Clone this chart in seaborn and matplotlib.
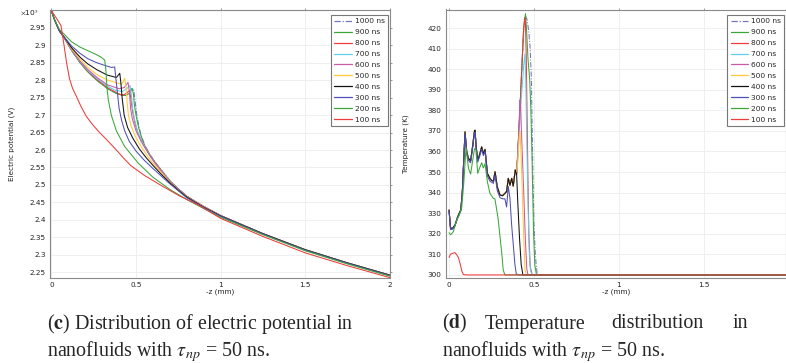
import matplotlib
matplotlib.use("Agg")
import matplotlib.pyplot as plt
import seaborn as sns
import pandas as pd
from matplotlib.ticker import FuncFormatter

# ---------------- data ----------------
times = ["1000 ns", "900 ns", "800 ns", "700 ns", "600 ns",
         "500 ns", "400 ns", "300 ns", "200 ns", "100 ns"]
line_colors = ["#7474c6", "#3aa63a", "#ee3b3b", "#5fcdee", "#c95aa8",
               "#ffc936", "#111111", "#4f4fb8", "#3aa63a", "#ee3b3b"]

# Electric potential (units of 1e5 V) vs -z (mm)
pot_x_1000 = [0, 0.02, 0.047, 0.08, 0.12, 0.17, 0.215, 0.27, 0.334, 0.38, 0.42, 0.44, 0.46, 0.472,
              0.485, 0.49, 0.497, 0.505, 0.518, 0.532, 0.552, 0.58, 0.611, 0.65, 0.7, 0.75,
              0.8, 0.9, 1.0, 1.25, 1.5, 1.75, 2.0]
pot_v_1000 = [3.0, 2.972, 2.942, 2.918, 2.885, 2.85, 2.825, 2.8, 2.776, 2.764, 2.758, 2.757, 2.763, 2.772,
              2.776, 2.76, 2.73, 2.70, 2.665, 2.64, 2.613, 2.589, 2.566, 2.542, 2.512, 2.489,
              2.468, 2.438, 2.412, 2.36, 2.314, 2.276, 2.241]
pot_x_900 = [0, 0.02, 0.047, 0.08, 0.12, 0.17, 0.215, 0.27, 0.334, 0.38, 0.42, 0.44, 0.46, 0.47,
             0.477, 0.485, 0.49, 0.5, 0.515, 0.53, 0.552, 0.58, 0.611, 0.65, 0.7, 0.75,
             0.8, 0.9, 1.0, 1.25, 1.5, 1.75, 2.0]
pot_v_900 = [3.0, 2.972, 2.942, 2.918, 2.885, 2.85, 2.824, 2.799, 2.775, 2.763, 2.757, 2.756, 2.763, 2.773,
             2.777, 2.76, 2.73, 2.70, 2.665, 2.64, 2.612, 2.588, 2.566, 2.542, 2.512, 2.488,
             2.467, 2.438, 2.412, 2.36, 2.314, 2.276, 2.241]
pot_x_800 = [0, 0.02, 0.047, 0.08, 0.12, 0.17, 0.215, 0.27, 0.334, 0.38, 0.40, 0.423, 0.44, 0.455,
             0.463, 0.47, 0.48, 0.492, 0.51, 0.53, 0.552, 0.58, 0.611, 0.65, 0.7, 0.75,
             0.8, 0.9, 1.0, 1.25, 1.5, 1.75, 2.0]
pot_v_800 = [3.0, 2.972, 2.942, 2.918, 2.886, 2.852, 2.826, 2.802, 2.778, 2.766, 2.76, 2.757, 2.762, 2.768,
             2.771, 2.745, 2.71, 2.68, 2.65, 2.63, 2.61, 2.587, 2.565, 2.541, 2.511, 2.488,
             2.467, 2.438, 2.412, 2.36, 2.314, 2.276, 2.241]
pot_x_700 = [0, 0.02, 0.047, 0.08, 0.12, 0.17, 0.215, 0.27, 0.334, 0.38, 0.42, 0.45, 0.465,
             0.472, 0.48, 0.49, 0.51, 0.53, 0.552, 0.58, 0.611, 0.65, 0.7, 0.75,
             0.8, 0.9, 1.0, 1.25, 1.5, 1.75, 2.0]
pot_v_700 = [3.0, 2.972, 2.942, 2.918, 2.887, 2.853, 2.828, 2.805, 2.782, 2.771, 2.768, 2.778, 2.785,
             2.76, 2.72, 2.69, 2.652, 2.63, 2.609, 2.586, 2.564, 2.54, 2.511, 2.488,
             2.467, 2.438, 2.412, 2.36, 2.314, 2.276, 2.241]
pot_x_600 = [0, 0.02, 0.047, 0.08, 0.12, 0.17, 0.215, 0.27, 0.33, 0.40, 0.43, 0.453,
             0.46, 0.468, 0.478, 0.5, 0.53, 0.552, 0.58, 0.611, 0.65, 0.7, 0.75,
             0.8, 0.9, 1.0, 1.25, 1.5, 1.75, 2.0]
pot_v_600 = [3.0, 2.972, 2.942, 2.919, 2.888, 2.855, 2.831, 2.808, 2.787, 2.776, 2.779, 2.794,
             2.77, 2.72, 2.69, 2.655, 2.625, 2.607, 2.585, 2.563, 2.539, 2.51, 2.488,
             2.467, 2.438, 2.412, 2.36, 2.314, 2.276, 2.241]
pot_x_500 = [0, 0.02, 0.047, 0.08, 0.12, 0.17, 0.215, 0.27, 0.33, 0.39, 0.417, 0.433,
             0.44, 0.447, 0.455, 0.47, 0.5, 0.53, 0.56, 0.6, 0.65, 0.7, 0.75,
             0.8, 0.9, 1.0, 1.25, 1.5, 1.75, 2.0]
pot_v_500 = [3.0, 2.972, 2.942, 2.92, 2.89, 2.86, 2.837, 2.816, 2.801, 2.792, 2.789, 2.806,
             2.785, 2.74, 2.70, 2.67, 2.635, 2.61, 2.588, 2.562, 2.535, 2.508, 2.486,
             2.466, 2.437, 2.411, 2.36, 2.314, 2.276, 2.241]
pot_x_400 = [0, 0.02, 0.047, 0.08, 0.12, 0.17, 0.215, 0.27, 0.33, 0.384, 0.404,
             0.41, 0.418, 0.43, 0.45, 0.48, 0.52, 0.56, 0.6, 0.65, 0.7, 0.75,
             0.8, 0.9, 1.0, 1.25, 1.5, 1.75, 2.0]
pot_v_400 = [3.0, 2.972, 2.942, 2.921, 2.893, 2.866, 2.847, 2.83, 2.815, 2.808, 2.82,
             2.795, 2.75, 2.70, 2.665, 2.635, 2.603, 2.578, 2.556, 2.53, 2.506, 2.485,
             2.465, 2.436, 2.411, 2.36, 2.314, 2.276, 2.241]
pot_x_300 = [0, 0.02, 0.047, 0.08, 0.12, 0.17, 0.215, 0.26, 0.3, 0.354, 0.374,
             0.38, 0.39, 0.40, 0.415, 0.433, 0.46, 0.5, 0.55, 0.6, 0.65, 0.7, 0.75,
             0.8, 0.9, 1.0, 1.25, 1.5, 1.75, 2.0]
pot_v_300 = [3.0, 2.972, 2.942, 2.922, 2.898, 2.877, 2.862, 2.852, 2.845, 2.837, 2.838,
             2.81, 2.765, 2.72, 2.685, 2.655, 2.625, 2.597, 2.57, 2.547, 2.525, 2.503, 2.483,
             2.463, 2.435, 2.41, 2.359, 2.313, 2.275, 2.24]
pot_x_200 = [0, 0.02, 0.047, 0.08, 0.12, 0.17, 0.215, 0.26, 0.295, 0.315, 0.322, 0.328,
             0.336, 0.354, 0.384, 0.433, 0.512, 0.6, 0.7, 0.8, 0.9, 1.0, 1.25, 1.5, 1.75, 2.0]
pot_v_200 = [3.0, 2.973, 2.946, 2.93, 2.91, 2.895, 2.885, 2.875, 2.866, 2.858, 2.83, 2.78,
             2.745, 2.70, 2.655, 2.61, 2.563, 2.522, 2.487, 2.458, 2.432, 2.407, 2.357, 2.311, 2.273, 2.238]
pot_x_100 = [0, 0.03, 0.057, 0.075, 0.09, 0.107, 0.125, 0.147, 0.175, 0.206, 0.245, 0.285,
             0.33, 0.384, 0.43, 0.47, 0.55, 0.65, 0.75, 0.87, 1.0, 1.25, 1.5, 1.75, 2.0]
pot_v_100 = [3.0, 2.978, 2.957, 2.90, 2.85, 2.805, 2.777, 2.755, 2.725, 2.697, 2.672, 2.65,
             2.628, 2.6, 2.575, 2.555, 2.527, 2.498, 2.47, 2.442, 2.404, 2.352, 2.305, 2.268, 2.234]

# Temperature (K) vs -z (mm)
temp_main_x = [0, 0.009, 0.022, 0.035, 0.05, 0.06, 0.069, 0.078, 0.086, 0.094, 0.104, 0.114,
               0.127, 0.138, 0.149, 0.153, 0.16, 0.169, 0.18, 0.192, 0.202, 0.212, 0.226,
               0.241, 0.25, 0.261, 0.271, 0.284, 0.3, 0.315, 0.329, 0.339, 0.349, 0.359,
               0.369, 0.378, 0.39, 0.398]
temp_main_T = [331.5, 322.6, 322.8, 324.2, 328, 330, 331.5, 340, 355, 369.5, 360, 356.6,
               355.5, 362, 369.5, 370.3, 362, 355.8, 358.5, 362.2, 359, 361, 349.3,
               346.9, 346, 345.5, 350.1, 342.8, 338.8, 338.5, 339.6, 340.5, 346.9, 343.6,
               346.9, 343.2, 351, 349]
temp_front_x_1000 = [0.41, 0.42, 0.43, 0.44, 0.45, 0.46, 0.47, 0.478, 0.485, 0.49, 0.495,
                     0.5, 0.507, 0.513, 0.52, 2.0]
temp_front_T_1000 = [368, 385, 403, 420, 426, 424, 418, 410, 395, 370, 345,
                     325, 312, 305, 300, 300]
temp_front_x_900 = [0.41, 0.42, 0.43, 0.44, 0.45, 0.456, 0.465, 0.475, 0.482, 0.488, 0.493,
                    0.498, 0.505, 0.515, 2.0]
temp_front_T_900 = [368, 385, 403, 420, 427, 420, 405, 395, 380, 360, 340,
                    320, 305, 300, 300]
temp_front_x_800 = [0.41, 0.42, 0.43, 0.438, 0.445, 0.45, 0.455, 0.46, 0.465, 0.47, 0.478, 0.49, 2.0]
temp_front_T_800 = [368, 385, 403, 418, 425, 423, 405, 375, 345, 320, 304, 300, 300]
temp_front_x_700 = [0.41, 0.425, 0.44, 0.447, 0.452, 0.458, 0.465, 0.472, 0.48, 0.49, 2.0]
temp_front_T_700 = [365, 385, 402, 407.5, 395, 365, 335, 312, 302, 300, 300]
temp_front_x_600 = [0.405, 0.412, 0.418, 0.422, 0.43, 0.44, 0.45, 0.458, 0.465, 2.0]
temp_front_T_600 = [358, 372, 385, 381, 362, 340, 316, 303, 300, 300]
temp_front_x_500 = [0.405, 0.412, 0.418, 0.425, 0.433, 0.44, 0.447, 0.455, 2.0]
temp_front_T_500 = [355, 366, 370, 357, 336, 318, 303, 300, 300]
temp_front_x_400 = [0.405, 0.415, 0.425, 0.435, 2.0]
temp_front_T_400 = [335, 318, 305, 300, 300]
temp_x_300 = [0, 0.009, 0.022, 0.035, 0.05, 0.06, 0.069, 0.078, 0.086, 0.094, 0.104, 0.114,
              0.127, 0.138, 0.149, 0.153, 0.16, 0.169, 0.18, 0.192, 0.202, 0.212, 0.226,
              0.241, 0.261, 0.271, 0.284, 0.3, 0.315, 0.329, 0.339, 0.349, 0.359, 0.368,
              0.378, 0.388, 0.396, 0.41, 2.0]
temp_T_300 = [331, 322, 322.3, 323.8, 327.5, 329.5, 331, 339.5, 354, 368.5, 359, 355.6,
              354.5, 361, 368.5, 369.3, 361, 354.8, 357.5, 361, 358, 360, 348,
              345.5, 344.5, 348.5, 341, 337.5, 337, 337, 333, 343, 337, 325,
              315, 305, 300.5, 300, 300]
temp_x_200 = [0, 0.01, 0.025, 0.045, 0.06, 0.075, 0.087, 0.1, 0.114, 0.127, 0.138, 0.15,
              0.158, 0.169, 0.18, 0.192, 0.202, 0.212, 0.226, 0.241, 0.261, 0.27, 0.284,
              0.29, 0.3, 0.31, 0.319, 0.329, 2.0]
temp_T_200 = [320.5, 319.5, 321, 326.6, 329, 333, 345, 362, 352, 349, 355, 361.4,
              361, 349.3, 352, 354.5, 352, 354, 345.2, 339.6, 337.2, 337, 330,
              326.6, 318.6, 311, 302.4, 300, 300]
temp_x_100 = [0, 0.008, 0.02, 0.035, 0.045, 0.055, 0.065, 0.075, 0.084, 0.1, 2.0]
temp_T_100 = [308.5, 310, 310.5, 310.8, 309.8, 308.5, 305.5, 302, 300.2, 300, 300]

pot_ticks = [2.25, 2.3, 2.35, 2.4, 2.45, 2.5, 2.55, 2.6, 2.65, 2.7, 2.75, 2.8, 2.85, 2.9, 2.95]
temp_ticks = [300, 310, 320, 330, 340, 350, 360, 370, 380, 390, 400, 410, 420]
z_ticks = [0, 0.5, 1, 1.5, 2]

# ---------------- assemble tables ----------------
pot_series = {
    "1000 ns": (pot_x_1000, pot_v_1000), "900 ns": (pot_x_900, pot_v_900),
    "800 ns": (pot_x_800, pot_v_800), "700 ns": (pot_x_700, pot_v_700),
    "600 ns": (pot_x_600, pot_v_600), "500 ns": (pot_x_500, pot_v_500),
    "400 ns": (pot_x_400, pot_v_400), "300 ns": (pot_x_300, pot_v_300),
    "200 ns": (pot_x_200, pot_v_200), "100 ns": (pot_x_100, pot_v_100),
}
temp_series = {
    "1000 ns": (temp_main_x + temp_front_x_1000, temp_main_T + temp_front_T_1000),
    "900 ns": (temp_main_x + temp_front_x_900, temp_main_T + temp_front_T_900),
    "800 ns": (temp_main_x + temp_front_x_800, temp_main_T + temp_front_T_800),
    "700 ns": (temp_main_x + temp_front_x_700, temp_main_T + temp_front_T_700),
    "600 ns": (temp_main_x + temp_front_x_600, temp_main_T + temp_front_T_600),
    "500 ns": (temp_main_x + temp_front_x_500, temp_main_T + temp_front_T_500),
    "400 ns": (temp_main_x + temp_front_x_400, temp_main_T + temp_front_T_400),
    "300 ns": (temp_x_300, temp_T_300),
    "200 ns": (temp_x_200, temp_T_200),
    "100 ns": (temp_x_100, temp_T_100),
}


def long_table(series):
    rows = []
    for name, (xs, ys) in series.items():
        for a, b in zip(xs, ys):
            rows.append({"time": name, "z": a, "val": b})
    return pd.DataFrame(rows)


df_pot = long_table(pot_series)
df_temp = long_table(temp_series)

# ---------------- style ----------------
sns.set_style("white")
plt.rcParams["font.family"] = ["DejaVu Sans"]
plt.rcParams["mathtext.fontset"] = "stix"

palette = dict(zip(times, line_colors))
dashes = {t: "" for t in times}
dashes["1000 ns"] = (5, 1.5, 1, 1.5)

fig = plt.figure(figsize=(7.86, 3.63), dpi=100)
W, H = 786.0, 363.0
ax1 = fig.add_axes([50 / W, 1 - 278 / H, 340 / W, 268.5 / H])
ax2 = fig.add_axes([446 / W, 1 - 278 / H, 339.5 / W, 268.5 / H])

fmt = FuncFormatter(lambda v, p: "%g" % round(v, 4))

for ax, df in ((ax1, df_pot), (ax2, df_temp)):
    sns.lineplot(data=df, x="z", y="val", hue="time", hue_order=times,
                 style="time", style_order=times, dashes=dashes,
                 palette=palette, sort=False, estimator=None,
                 linewidth=0.75, ax=ax)
    ax.set_xticks(z_ticks)
    ax.xaxis.set_major_formatter(fmt)
    ax.yaxis.set_major_formatter(fmt)
    ax.grid(True, color="#ececec", linewidth=0.6)
    ax.set_axisbelow(True)
    for s in ax.spines.values():
        s.set_color("#8a8a8a")
        s.set_linewidth(0.8)
    ax.tick_params(axis="both", which="both", direction="out", length=1.6, width=0.6,
                   color="#8a8a8a", labelsize=5.2, labelcolor="#222222", pad=1.6,
                   top=True, right=True, labeltop=False, labelright=False)
    ax.set_xlabel("-z (mm)", fontsize=5.2, labelpad=0.2, color="#222222")
    handles, labels = ax.get_legend_handles_labels()
    if ax.get_legend() is not None:
        ax.get_legend().remove()
    leg = ax.legend(handles, labels, loc="upper right", fontsize=5.4, frameon=True,
                    fancybox=False, framealpha=1, edgecolor="#777777",
                    borderaxespad=0, handlelength=2.3, handletextpad=0.4,
                    labelspacing=0.62, borderpad=0.45)
    leg.get_frame().set_linewidth(0.8)
    for ln in leg.get_lines():
        ln.set_linewidth(0.9)

ax1.set_xlim(-0.008, 2.0)
ax1.set_ylim(2.233, 3.003)
ax1.set_yticks(pot_ticks)
ax1.set_ylabel("Electric potential (V)", fontsize=5.2, color="#222222")
ax1.yaxis.set_label_coords(-0.103, 0.5)
ax1.get_legend().set_bbox_to_anchor((0.994, 0.98), transform=ax1.transAxes)
fig.text(20 / W, 1 - 13 / H, r"$\times$10$^5$", fontsize=5.4, color="#222222",
         va="center", ha="left", family="DejaVu Sans")

ax2.set_xlim(-0.018, 1.982)
ax2.set_ylim(298.5, 429)
ax2.set_yticks(temp_ticks)
ax2.set_ylabel("Temperature (K)", fontsize=5.2, color="#222222")
ax2.yaxis.set_label_coords(-0.110, 0.5)
ax2.get_legend().set_bbox_to_anchor((0.997, 0.98), transform=ax2.transAxes)

# ---------------- captions ----------------
cap_font = "Liberation Serif"
cap_size = 14.0
probe = fig.text(0, 0, r"($\mathbf{c}$) Distribution of electric potential in",
                 fontsize=cap_size, family=cap_font)
fig.canvas.draw()
w = probe.get_window_extent().width
probe.remove()
cap_size = cap_size * 308.0 / w

y1 = 1 - 328.5 / H
y2 = 1 - 356.5 / H
fig.text(46.7 / W, y1, r"($\mathbf{c}$) Distribution of electric potential in",
         fontsize=cap_size, family=cap_font, va="baseline", ha="left")
fig.text(46.7 / W, y2, r"nanofluids with $\tau_{np}$ = 50 ns.",
         fontsize=cap_size, family=cap_font, va="baseline", ha="left")
fig.text(441.7 / W, y1, r"($\mathbf{d}$)", fontsize=cap_size, family=cap_font,
         va="baseline", ha="left")
fig.text(485 / W, y1, "Temperature", fontsize=cap_size, family=cap_font,
         va="baseline", ha="left")
fig.text(611.7 / W, y1, "distribution", fontsize=cap_size, family=cap_font,
         va="baseline", ha="left")
fig.text(747.7 / W, y1, "in", fontsize=cap_size, family=cap_font,
         va="baseline", ha="right")
fig.text(441.7 / W, y2, r"nanofluids with $\tau_{np}$ = 50 ns.",
         fontsize=cap_size, family=cap_font, va="baseline", ha="left")

fig.savefig("out.png", dpi=100, facecolor="white")
